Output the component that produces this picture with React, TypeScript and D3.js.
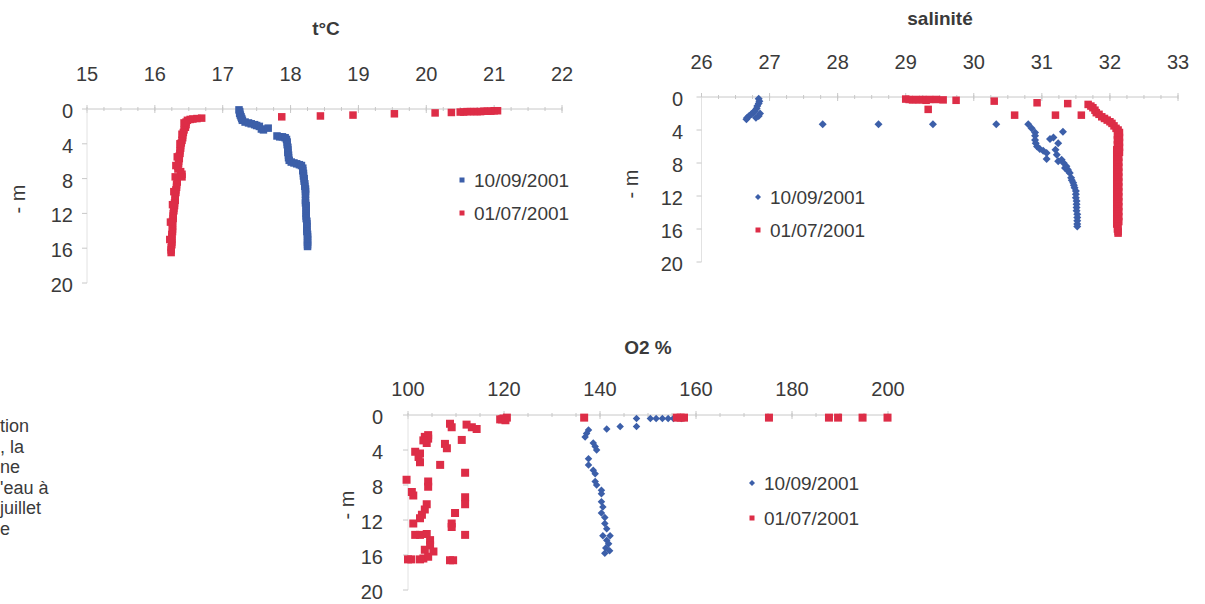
import React from "react";
import * as d3 from "d3";

// ---------- DATA ----------
const depthTicks = [0, 4, 8, 12, 16, 20];
const tempTicks = [15, 16, 17, 18, 19, 20, 21, 22];
const salTicks = [26, 27, 28, 29, 30, 31, 32, 33];
const o2Ticks = [100, 120, 140, 160, 180, 200];
const seriesNames = ["10/09/2001", "01/07/2001"];

// [value, depth m]
const tempSept: [number, number][] = [
  [17.24, 0.1], [17.25, 0.3], [17.25, 0.5], [17.26, 0.7], [17.27, 0.9], [17.28, 1.1], [17.29, 1.3],
  [17.33, 1.5], [17.38, 1.6], [17.42, 1.7], [17.47, 1.8], [17.5, 1.9], [17.54, 2.0], [17.57, 2.3],
  [17.6, 2.4], [17.67, 2.2], [17.8, 3.1], [17.84, 3.2], [17.88, 3.2], [17.92, 3.3], [17.94, 3.5],
  [17.95, 3.8], [17.95, 4.1], [17.96, 4.4], [17.96, 4.7], [17.96, 5.0], [17.97, 5.3], [17.97, 5.6],
  [17.98, 5.9], [18.01, 6.1], [18.05, 6.2], [18.09, 6.3], [18.13, 6.4], [18.16, 6.5], [18.18, 6.8],
  [18.18, 7.1], [18.19, 7.4], [18.19, 7.7], [18.2, 8.0], [18.2, 8.3], [18.21, 8.6], [18.21, 8.9],
  [18.22, 9.2], [18.22, 9.5], [18.22, 9.8], [18.22, 10.5], [18.22, 10.8], [18.23, 11.1], [18.23, 11.4],
  [18.23, 11.7], [18.23, 12.0], [18.23, 12.3], [18.23, 12.6], [18.24, 12.9], [18.24, 13.2], [18.24, 13.5],
  [18.24, 13.8], [18.24, 14.1], [18.25, 14.4], [18.25, 14.7], [18.25, 15.0], [18.25, 15.3], [18.25, 15.6],
  [18.25, 15.8],
];
const tempJuly: [number, number][] = [
  [21.05, 0.2], [21.0, 0.2], [20.95, 0.25], [20.9, 0.25], [20.85, 0.25], [20.8, 0.3], [20.75, 0.3],
  [20.7, 0.3], [20.65, 0.3], [20.6, 0.3], [20.55, 0.35], [20.5, 0.35], [20.37, 0.4], [20.13, 0.45],
  [19.53, 0.55], [18.92, 0.7], [18.44, 0.8], [17.87, 0.9], [16.69, 1.05], [16.62, 1.1], [16.56, 1.15],
  [16.52, 1.2], [16.48, 1.3], [16.46, 1.5], [16.46, 1.8], [16.45, 2.1], [16.43, 2.4], [16.42, 2.7],
  [16.41, 3.0], [16.41, 3.3], [16.4, 3.6], [16.39, 3.9], [16.38, 4.2], [16.38, 4.5], [16.37, 4.8],
  [16.37, 5.1], [16.36, 5.4], [16.36, 5.7], [16.35, 6.0], [16.35, 6.3], [16.34, 6.6], [16.34, 6.9],
  [16.38, 7.2], [16.4, 7.5], [16.4, 7.8], [16.33, 8.1], [16.33, 8.4], [16.32, 8.7], [16.32, 9.0],
  [16.31, 9.3], [16.31, 9.6], [16.3, 9.9], [16.3, 10.2], [16.3, 10.5], [16.29, 10.8], [16.29, 11.1],
  [16.28, 11.4], [16.28, 11.7], [16.27, 12.0], [16.27, 12.3], [16.27, 12.6], [16.26, 12.9], [16.26, 13.2],
  [16.26, 13.5], [16.26, 13.8], [16.26, 14.1], [16.25, 14.4], [16.25, 14.7], [16.25, 15.0], [16.25, 15.3],
  [16.25, 15.6], [16.24, 15.9], [16.24, 16.2], [16.24, 16.5],
  [16.43, 1.6], [16.4, 2.9], [16.37, 4.0], [16.33, 5.5], [16.31, 6.5], [16.3, 7.8], [16.28, 9.5],
  [16.26, 11.0], [16.23, 13.0], [16.22, 15.0],
];
const salSept: [number, number][] = [
  [26.84, 0.2], [26.85, 0.5], [26.84, 0.8], [26.82, 1.1], [26.81, 1.4], [26.78, 1.7], [26.76, 1.9],
  [26.73, 2.1], [26.7, 2.3], [26.67, 2.5], [26.66, 2.7], [26.86, 2.0], [26.84, 2.3], [26.8, 2.5],
  [27.78, 3.3], [28.6, 3.3], [29.4, 3.3], [30.33, 3.3], [30.8, 3.3], [30.85, 3.8], [30.9, 4.3],
  [30.9, 4.7], [30.9, 5.2], [30.91, 5.6], [30.93, 6.0], [30.97, 6.3], [31.02, 6.5], [31.07, 6.8],
  [31.07, 7.5], [31.12, 5.1], [31.17, 4.9], [31.2, 6.4], [31.24, 5.6], [31.31, 4.2], [31.22, 7.0],
  [31.24, 7.8], [31.29, 7.6], [31.32, 8.0], [31.34, 8.6], [31.36, 8.4], [31.38, 8.8], [31.39, 9.0],
  [31.41, 9.2], [31.43, 9.8], [31.44, 10.1], [31.46, 10.4], [31.47, 10.7], [31.48, 11.0], [31.5, 11.4],
  [31.5, 11.8], [31.5, 12.2], [31.51, 12.6], [31.51, 13.0], [31.51, 13.4], [31.51, 13.8], [31.52, 14.2],
  [31.52, 14.6], [31.52, 15.0], [31.52, 15.4], [31.52, 15.7],
];
const salJuly: [number, number][] = [
  [29.0, 0.25], [29.05, 0.3], [29.1, 0.35], [29.15, 0.3], [29.2, 0.35], [29.25, 0.3], [29.3, 0.4],
  [29.35, 0.3], [29.45, 0.3], [29.55, 0.35], [29.74, 0.4], [29.33, 1.5], [30.3, 0.5], [30.6, 2.2],
  [30.93, 0.7], [31.2, 2.2], [31.38, 0.8], [31.58, 2.2], [31.68, 0.9], [31.72, 1.1], [31.75, 1.3],
  [31.78, 1.6], [31.8, 1.9], [31.84, 2.1], [31.88, 2.4], [31.92, 2.6], [31.96, 2.8], [32.0, 3.0],
  [32.03, 3.2], [32.06, 3.5], [32.09, 3.8], [32.12, 4.0], [32.14, 4.3], [32.11, 4.6], [32.14, 4.9],
  [32.11, 5.2], [32.14, 5.5], [32.11, 5.8], [32.14, 6.1], [32.1, 6.4], [32.14, 6.7], [32.1, 7.0],
  [32.13, 7.3], [32.1, 7.6], [32.13, 7.9], [32.1, 8.2], [32.13, 8.5], [32.1, 8.8], [32.13, 9.1],
  [32.1, 9.4], [32.13, 9.7], [32.1, 10.0], [32.13, 10.3], [32.1, 10.6], [32.13, 10.9], [32.1, 11.2],
  [32.13, 11.5], [32.1, 11.8], [32.13, 12.1], [32.1, 12.4], [32.13, 12.7], [32.1, 13.0], [32.13, 13.3],
  [32.1, 13.6], [32.13, 13.9], [32.1, 14.2], [32.13, 14.5], [32.1, 14.8], [32.13, 15.1], [32.1, 15.4],
  [32.12, 15.7], [32.11, 16.0], [32.12, 16.3], [32.12, 16.5],
];
const o2Sept: [number, number][] = [
  [147.6, 0.4], [150.5, 0.4], [151.7, 0.4], [153.0, 0.4], [154.2, 0.4], [155.3, 0.4], [157.0, 0.4],
  [147.6, 1.3], [144.2, 1.3], [141.4, 1.6], [137.6, 1.7], [137.2, 2.1], [136.9, 2.5], [138.6, 3.2],
  [139.0, 3.6], [139.3, 4.0], [137.6, 5.0], [137.6, 5.7], [138.6, 6.3], [139.0, 6.7], [139.0, 7.6],
  [139.3, 8.0], [140.3, 8.6], [140.3, 9.0], [140.3, 9.9], [140.6, 10.5], [140.3, 11.2], [141.0, 11.7],
  [141.0, 12.4], [141.4, 13.0], [140.6, 13.8], [142.1, 13.8], [141.4, 14.3], [141.8, 14.7], [141.2, 15.2],
  [142.0, 15.5], [141.0, 15.8],
];
const o2July: [number, number][] = [
  [136.7, 0.3], [156.0, 0.3], [156.8, 0.3], [157.5, 0.3], [175.2, 0.3], [187.7, 0.3], [189.6, 0.3],
  [194.7, 0.3], [199.9, 0.3],
  [119.2, 0.5], [119.6, 0.5], [119.9, 0.4], [120.6, 0.3], [120.3, 0.6], [108.75, 1.0], [109.1, 1.4],
  [112.2, 1.1], [113.3, 1.4], [114.3, 1.6], [104.2, 2.3], [103.5, 2.5], [104.2, 2.7], [103.2, 2.9],
  [103.9, 3.2], [107.7, 3.3], [108.1, 3.8], [111.2, 2.85], [101.5, 4.2], [102.5, 4.4], [102.2, 4.8],
  [102.5, 5.4], [106.7, 5.7], [111.9, 6.6], [99.7, 7.4], [104.2, 7.6], [104.2, 8.2], [100.8, 8.8],
  [101.1, 9.2], [111.9, 9.4], [111.9, 10.2], [103.9, 10.2], [103.5, 10.8], [102.9, 11.4], [102.5, 11.8],
  [109.8, 11.2], [109.1, 12.4], [109.1, 12.8], [101.1, 12.4], [111.9, 13.7], [101.5, 13.7], [102.5, 13.7],
  [103.9, 13.6], [104.6, 14.3], [104.6, 14.9], [103.5, 15.4], [105.3, 15.6], [100.0, 16.5], [100.7, 16.5],
  [102.5, 16.5], [103.2, 16.4], [104.2, 16.2], [108.75, 16.6], [109.4, 16.6],
];
const leftText = ["tion", ", la", "ne", "'eau à", "juillet", "e"];

// ---------- LAYOUT ----------
const BLUE = "#3c5fa9";
const RED = "#dd2d47";
const TXT = "#3a3a3a";
const AX = "#c8c8c8";
const FONT = "'Liberation Sans', Arial, sans-serif";

type Series = { name: string; data: [number, number][]; color: string; shape: "square" | "diamond"; size: number };
type PanelCfg = {
  title: string; titleX: number; titleY: number;
  xDomain: [number, number]; xTicks: number[]; minor: number; xRange: [number, number];
  yRange: [number, number]; labelY: number; yTickRight: number; yLabelX: number; yLabelY: number;
  legendX: number; legendY: [number, number];
  series: Series[];
};

const panels: PanelCfg[] = [
  {
    title: "t°C", titleX: 326, titleY: 28,
    xDomain: [15, 22], xTicks: tempTicks, minor: 0.25, xRange: [87, 562],
    yRange: [109, 283], labelY: 74, yTickRight: 73, yLabelX: 18, yLabelY: 199,
    legendX: 462, legendY: [180, 213],
    series: [
      { name: seriesNames[0], data: tempSept, color: BLUE, shape: "square", size: 7.5 },
      { name: seriesNames[1], data: tempJuly, color: RED, shape: "square", size: 7.5 },
    ],
  },
  {
    title: "salinité", titleX: 940, titleY: 18,
    xDomain: [26, 33], xTicks: salTicks, minor: 0.25, xRange: [701.5, 1178],
    yRange: [97, 262], labelY: 62, yTickRight: 683, yLabelX: 631, yLabelY: 184,
    legendX: 758, legendY: [197, 230],
    series: [
      { name: seriesNames[0], data: salSept, color: BLUE, shape: "diamond", size: 8 },
      { name: seriesNames[1], data: salJuly, color: RED, shape: "square", size: 7.5 },
    ],
  },
  {
    title: "O2 %", titleX: 648, titleY: 347,
    xDomain: [100, 200], xTicks: o2Ticks, minor: 5, xRange: [408, 888],
    yRange: [415, 590], labelY: 389, yTickRight: 383, yLabelX: 347, yLabelY: 505,
    legendX: 752, legendY: [483, 518],
    series: [
      { name: seriesNames[0], data: o2Sept, color: BLUE, shape: "diamond", size: 7.5 },
      { name: seriesNames[1], data: o2July, color: RED, shape: "square", size: 8 },
    ],
  },
];

function Marker({ x, y, s, shape, color }: { x: number; y: number; s: number; shape: string; color: string }) {
  if (shape === "square") {
    return <rect x={x - s / 2} y={y - s / 2} width={s} height={s} fill={color} />;
  }
  const h = s / 2;
  return <path d={`M${x},${y - h}L${x + h},${y}L${x},${y + h}L${x - h},${y}Z`} fill={color} />;
}

function Panel({ cfg }: { cfg: PanelCfg }) {
  const x = d3.scaleLinear().domain(cfg.xDomain).range(cfg.xRange);
  const y = d3.scaleLinear().domain([0, 20]).range(cfg.yRange);
  const minors = d3.range(cfg.xDomain[0], cfg.xDomain[1] + 1e-9, cfg.minor);
  const y0 = y(0);
  return (
    <g>
      <text x={cfg.titleX} y={cfg.titleY} textAnchor="middle" dominantBaseline="central"
        fontFamily={FONT} fontSize={19} fontWeight="bold" fill={TXT}>{cfg.title}</text>
      <line x1={cfg.xRange[0]} x2={cfg.xRange[1]} y1={y0} y2={y0} stroke={AX} strokeWidth={1} />
      {minors.map((m, i) => (
        <line key={"mi" + i} x1={x(m)} x2={x(m)} y1={y0 - 2} y2={y0 + 2} stroke={AX} />
      ))}
      {cfg.xTicks.map((t) => (
        <g key={"xt" + t}>
          <line x1={x(t)} x2={x(t)} y1={y0 - 4} y2={y0 + 4} stroke={AX} />
          <text x={x(t)} y={cfg.labelY} textAnchor="middle" dominantBaseline="central"
            fontFamily={FONT} fontSize={20} fill={TXT}>{t}</text>
        </g>
      ))}
      <line x1={cfg.xRange[0]} x2={cfg.xRange[0]} y1={y(0)} y2={y(20)} stroke="#e2e2e2" strokeWidth={1} />
      {depthTicks.map((t) => (
        <g key={"yt" + t}>
          <line x1={cfg.xRange[0] - 5} x2={cfg.xRange[0]} y1={y(t)} y2={y(t)} stroke={AX} />
          <text x={cfg.yTickRight} y={y(t) + 2} textAnchor="end" dominantBaseline="central"
            fontFamily={FONT} fontSize={20} fill={TXT}>{t}</text>
        </g>
      ))}
      <text transform={`translate(${cfg.yLabelX},${cfg.yLabelY}) rotate(-90)`} textAnchor="middle"
        dominantBaseline="central" fontFamily={FONT} fontSize={20} fill={TXT}>- m</text>
      {cfg.series.map((s) => (
        <g key={s.name}>
          {s.data.map((d, i) => (
            <Marker key={i} x={x(d[0])} y={y(d[1])} s={s.size} shape={s.shape} color={s.color} />
          ))}
        </g>
      ))}
      {cfg.series.map((s, i) => (
        <g key={"lg" + i}>
          <Marker x={cfg.legendX} y={cfg.legendY[i]} s={s.shape === "diamond" ? 6 : 5} shape={s.shape} color={s.color} />
          <text x={cfg.legendX + 12} y={cfg.legendY[i]} dominantBaseline="central"
            fontFamily={FONT} fontSize={19} fill={TXT}>{s.name}</text>
        </g>
      ))}
    </g>
  );
}

export default function App() {
  return (
    <svg width={1205} height={604} style={{ position: "absolute", left: 0, top: 0, background: "#fff" }}>
      <rect width={1205} height={604} fill="#fff" />
      {panels.map((p) => (
        <Panel key={p.title} cfg={p} />
      ))}
      {leftText.map((t, i) => (
        <text key={i} x={0} y={426 + i * 20.6} dominantBaseline="central" fontFamily={FONT} fontSize={18} fill={TXT}>
          {t}
        </text>
      ))}
    </svg>
  );
}
